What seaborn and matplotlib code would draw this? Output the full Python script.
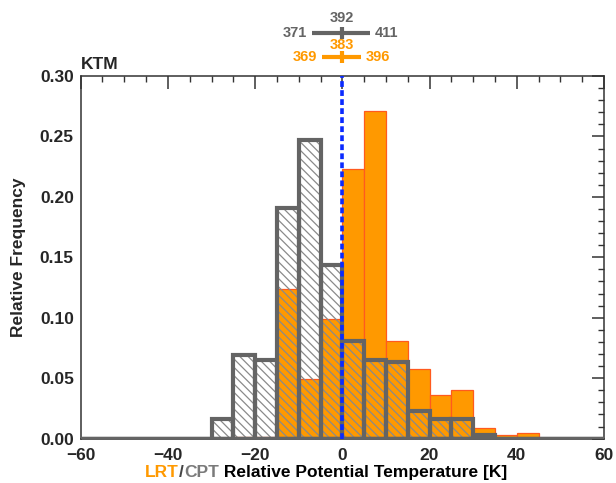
import numpy as np
import pandas as pd
import matplotlib
matplotlib.use("Agg")
import matplotlib.pyplot as plt
from matplotlib.offsetbox import TextArea, HPacker, AnchoredOffsetbox
import seaborn as sns

# ---- data ----
bin_edges = [-60, -55, -50, -45, -40, -35, -30, -25, -20, -15, -10, -5, 0,
             5, 10, 15, 20, 25, 30, 35, 40, 45, 50, 55, 60]
bin_centers = [-57.5, -52.5, -47.5, -42.5, -37.5, -32.5, -27.5, -22.5, -17.5,
               -12.5, -7.5, -2.5, 2.5, 7.5, 12.5, 17.5, 22.5, 27.5, 32.5,
               37.5, 42.5, 47.5, 52.5, 57.5]
lrt_freq = [0, 0, 0, 0, 0, 0, 0, 0.001, 0.001, 0.124, 0.049, 0.099, 0.223,
            0.271, 0.081, 0.058, 0.036, 0.040, 0.009, 0.003, 0.005, 0, 0, 0]
cpt_freq = [0, 0, 0, 0, 0, 0, 0.016, 0.069, 0.065, 0.191, 0.247, 0.144,
            0.081, 0.065, 0.063, 0.023, 0.016, 0.016, 0.003, 0, 0, 0, 0, 0]
cpt_stats = [371, 392, 411]   # low, mean, high
lrt_stats = [369, 383, 396]
station = "KTM"

df = pd.DataFrame({"center": bin_centers, "lrt": lrt_freq, "cpt": cpt_freq})
df_cpt = df[df["cpt"] > 0]

ORANGE = "#ff9900"
ORANGE_EDGE = "#ff5a1e"
GRAY = "#646464"
HATCH_GRAY = "#8a8a8a"

sns.set_theme(style="white")
plt.rcParams["font.family"] = ["Liberation Sans", "DejaVu Sans"]
plt.rcParams["font.weight"] = "bold"
plt.rcParams["hatch.linewidth"] = 0.9

fig = plt.figure(figsize=(6.16, 4.83), dpi=100)
ax = fig.add_axes([0.131, 0.0919, 0.8495, 0.7508])

# LRT (orange, filled)
sns.histplot(data=df, x="center", weights="lrt", bins=bin_edges, ax=ax,
             stat="count", color=ORANGE, edgecolor=ORANGE_EDGE, linewidth=0.9,
             alpha=1, zorder=2)
# CPT hatch layer
sns.histplot(data=df_cpt, x="center", weights="cpt", bins=bin_edges, ax=ax,
             stat="count", facecolor="none", edgecolor=HATCH_GRAY, linewidth=0,
             hatch="\\\\\\\\", alpha=1, zorder=3)
# CPT outline layer (each bar outlined)
sns.histplot(data=df_cpt, x="center", weights="cpt", bins=bin_edges, ax=ax,
             stat="count", facecolor="none", edgecolor=GRAY, linewidth=3.0,
             alpha=1, zorder=4)

ax.axhline(0, color=GRAY, lw=3.2, zorder=4)
ax.axvline(0, ymin=0, ymax=1, color="#0a2aff", lw=2.6, ls=(0, (1.6, 0.9)), zorder=6)

ax.set_xlim(-60, 60)
ax.set_ylim(0, 0.30)
ax.set_xticks([-60, -40, -20, 0, 20, 40, 60])
ax.set_xticks(np.arange(-60, 61, 5), minor=True)
ax.set_yticks([0.0, 0.05, 0.10, 0.15, 0.20, 0.25, 0.30])
ax.set_yticks(np.arange(0, 0.301, 0.01), minor=True)
ax.set_yticklabels([f"{v:.2f}" for v in [0.0, 0.05, 0.10, 0.15, 0.20, 0.25, 0.30]])
ax.tick_params(axis="both", which="major", direction="in", length=9, width=1.1,
               color="#333333", top=True, right=True, labelsize=12.5, pad=5)
ax.tick_params(axis="both", which="minor", direction="in", length=4.5, width=1.0,
               color="#333333", top=True, right=True)
ax.tick_params(axis="x", which="major", pad=7)
for lab in ax.get_xticklabels() + ax.get_yticklabels():
    lab.set_fontweight("bold")
for sp in ax.spines.values():
    sp.set_color("#333333")
    sp.set_linewidth(1.1)

ax.set_xlabel("")
ax.set_ylabel("Relative Frequency", fontsize=12.5, fontweight="bold", labelpad=10)

# colored x label
parts = [("LRT", ORANGE), ("/", "#444444"), ("CPT", "#7a7a7a"),
         (" Relative Potential Temperature [K]", "black")]
boxes = [TextArea(t, textprops=dict(color=c, fontsize=12.5, fontweight="bold"))
         for t, c in parts]
pack = HPacker(children=boxes, align="baseline", pad=0, sep=0)
anch = AnchoredOffsetbox(loc="center", child=pack, frameon=False,
                         bbox_to_anchor=(326 / 616, 1 - 472.5 / 483),
                         bbox_transform=fig.transFigure, borderpad=0, pad=0)
fig.add_artist(anch)

ax.text(0.0, 1.012, station, transform=ax.transAxes, fontsize=12.5,
        fontweight="bold", ha="left", va="bottom")

# summary ranges above the axes
trans = ax.get_xaxis_transform()
scale = 1 / 3.0
for stats, color, yline, ymean in [(cpt_stats, GRAY, 1.119, 1.160),
                                   (lrt_stats, ORANGE, 1.052, 1.086)]:
    lo, mid, hi = stats
    x0 = -(mid - lo) * scale
    x1 = (hi - mid) * scale
    ax.plot([x0, x1], [yline, yline], transform=trans, color=color, lw=3.0,
            clip_on=False, solid_capstyle="butt")
    ax.plot([0, 0], [yline - 0.017, yline + 0.017], transform=trans, color=color,
            lw=3.0, clip_on=False, solid_capstyle="butt")
    ax.text(x0 - 1.2, yline, f"{lo}", transform=trans, color=color, ha="right",
            va="center", fontsize=10.5, fontweight="bold")
    ax.text(x1 + 1.0, yline, f"{hi}", transform=trans, color=color, ha="left",
            va="center", fontsize=10.5, fontweight="bold")
    ax.text(0, ymean, f"{mid}", transform=trans, color=color, ha="center",
            va="center", fontsize=10.5, fontweight="bold")

fig.savefig("out.png", dpi=100)
